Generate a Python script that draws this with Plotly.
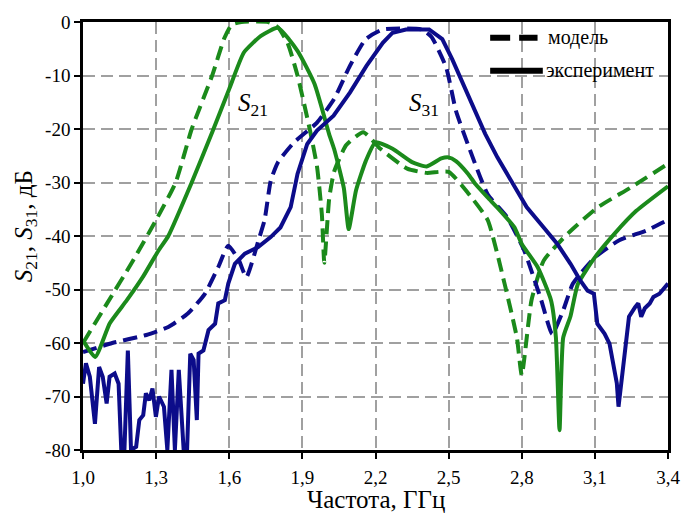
import plotly.graph_objects as go

# S21 model (dashed green)
s21_model_f = [1.0, 1.1, 1.2, 1.3, 1.38, 1.446, 1.53, 1.58, 1.61, 1.65, 1.76, 1.8, 1.84,
               1.88, 1.93, 1.96, 1.98, 1.99, 2.01, 2.03, 2.08, 2.15, 2.22, 2.33, 2.41, 2.5, 2.58,
               2.66, 2.73, 2.78, 2.80, 2.84, 2.89, 2.99, 3.11, 3.245, 3.4]
s21_model_db = [-60, -52.5, -45, -37, -30, -20, -10, -3, -0.5, 0, 0, -1, -4,
                -10, -20, -27, -36, -45, -33, -28, -23, -20.6, -23.7, -27.4, -28.2, -28, -32,
                -37, -49, -59, -66, -52, -44.6, -39.5, -34.7, -31, -26.5]

# S21 experiment (solid green)
s21_exp_f = [1.0, 1.05, 1.11, 1.18, 1.245, 1.31, 1.35, 1.446, 1.53, 1.6, 1.66, 1.73, 1.8, 1.88,
             1.95, 2.01, 2.03, 2.07, 2.09, 2.12, 2.16, 2.2, 2.27, 2.35, 2.41, 2.47, 2.5, 2.53,
             2.58, 2.61, 2.66, 2.70, 2.77, 2.8, 2.865, 2.92, 2.94, 2.955, 2.97, 3.0, 3.03, 3.1,
             3.18, 3.27, 3.4]
s21_exp_db = [-59.5, -62.6, -56.3, -52, -47.7, -42.7, -40, -30, -20.6, -12.5, -5.7, -2.6, -1.1, -5.4,
              -11.6, -21, -23.7, -31, -38.7, -31.5, -26, -22.5, -23.7, -26.2, -27, -25.5, -25.3, -26,
              -28.4, -30.3, -32.8, -34.7, -38.4, -41.5, -45.8, -52, -58.9, -76.3, -59, -55, -49, -44,
              -39.6, -35.3, -30.7]

# S31 model (dashed blue)
s31_model_f = [1.0, 1.12, 1.26, 1.35, 1.43, 1.5, 1.555, 1.596, 1.64, 1.67, 1.72, 1.745, 1.77, 1.8,
               1.866, 1.96, 2.03, 2.095, 2.16, 2.23, 2.39, 2.43, 2.49, 2.53, 2.58, 2.66, 2.74,
               2.81, 2.88, 2.925, 2.97, 3.01, 3.1, 3.2, 3.31, 3.4]
s31_model_db = [-61.7, -60, -58.5, -57, -54.5, -50.8, -45.8, -41.8, -44.6, -47.7, -40.8, -37, -29.7, -26.2,
                -22.5, -18.8, -14.4, -8.2, -3.2, -1.4, -1.4, -2.8, -8.5, -16.6, -23, -32.2, -36.5,
                -42.7, -52, -58.3, -53.9, -48.9, -44, -40.8, -39, -37]

# S31 experiment (solid blue)
s31_exp_f = [1.0, 1.012, 1.028, 1.049, 1.066, 1.081, 1.097, 1.109, 1.13, 1.146, 1.157, 1.17, 1.184,
             1.197, 1.218, 1.231, 1.247, 1.258, 1.272, 1.285, 1.299, 1.312, 1.332, 1.346, 1.363,
             1.377, 1.393, 1.413, 1.427, 1.44, 1.454, 1.467, 1.474, 1.494, 1.515, 1.542, 1.555,
             1.582, 1.596, 1.623, 1.664, 1.717, 1.77, 1.81, 1.852, 1.88, 1.92, 1.96, 2.028, 2.095,
             2.163, 2.23, 2.27, 2.325, 2.42, 2.474, 2.515, 2.555, 2.61, 2.65, 2.70, 2.77, 2.82,
             2.89, 2.946, 3.0, 3.04, 3.07, 3.096, 3.11, 3.14, 3.16, 3.177, 3.19, 3.197, 3.21,
             3.224, 3.24, 3.265, 3.278, 3.29, 3.305, 3.325, 3.34, 3.365, 3.4]
s31_exp_db = [-67.6, -63.8, -66.3, -75.1, -64.5, -66.3, -71.3, -66.3, -65.7, -67.6, -80, -80, -61.4,
              -80, -79.4, -74.4, -73.5, -69.4, -70.7, -68.5, -73.8, -70, -71.9, -80, -65,
              -80, -65, -80, -80, -62, -63.2, -74.4, -62, -61.4, -57.6, -56.4, -52.6,
              -52, -48.9, -45.2, -43.3, -42.1, -40.2, -38.4, -34.6, -28.4, -22.8, -20.3, -17.5, -13.2,
              -8.2, -3.9, -2, -1.4, -1.4, -3.2, -7, -11, -16.6, -20.9, -25.3, -30.9, -34.6,
              -38.4, -41.5, -45.2, -48.3, -50.2, -50.8, -56.4, -58.3, -60.1, -63.8, -67.5, -71.9, -66.3,
              -61.4, -55.1, -53.3, -52.6, -55.1, -53.5, -52.6, -51.4, -50.8, -48.9]

x_ticks = [1.0, 1.3, 1.6, 1.9, 2.2, 2.5, 2.8, 3.1, 3.4]
x_tick_text = ["1,0", "1,3", "1,6", "1,9", "2,2", "2,5", "2,8", "3,1", "3,4"]
y_ticks = [0, -10, -20, -30, -40, -50, -60, -70, -80]
y_tick_text = ["0", "-10", "-20", "-30", "-40", "-50", "-60", "-70", "-80"]

GREEN = "#1b8a1b"
BLUE = "#0c0c8a"
SERIF = "Liberation Serif, Times New Roman, serif"
DASH = "14px,7px"

fig = go.Figure()
fig.add_trace(go.Scatter(x=s21_model_f, y=s21_model_db, mode="lines",
                         line=dict(color=GREEN, width=4, dash=DASH, shape="spline", smoothing=0.5)))
fig.add_trace(go.Scatter(x=s31_model_f, y=s31_model_db, mode="lines",
                         line=dict(color=BLUE, width=4, dash=DASH, shape="spline", smoothing=0.5)))
fig.add_trace(go.Scatter(x=s21_exp_f, y=s21_exp_db, mode="lines",
                         line=dict(color=GREEN, width=4, shape="spline", smoothing=0.5)))
fig.add_trace(go.Scatter(x=s31_exp_f, y=s31_exp_db, mode="lines",
                         line=dict(color=BLUE, width=4)))

axis_common = dict(showline=True, mirror=True, linecolor="black", linewidth=2.5,
                   ticks="outside", ticklen=6, tickwidth=2, tickcolor="black",
                   showgrid=True, gridcolor="#a0a0a0", gridwidth=1.5, griddash="12px,6px",
                   zeroline=False, tickfont=dict(family=SERIF, size=19, color="black"))

fig.update_xaxes(range=[1.0, 3.4], tickvals=x_ticks, ticktext=x_tick_text,
                 ticklabelstandoff=2, **axis_common)
fig.update_yaxes(range=[-80, 0], tickvals=y_ticks, ticktext=y_tick_text, **axis_common)

# Curve labels
fig.add_annotation(x=1.697, y=-15.5, text="<i>S</i><sub>21</sub>", showarrow=False,
                   font=dict(family=SERIF, size=25, color="black"))
fig.add_annotation(x=2.40, y=-15.5, text="<i>S</i><sub>31</sub>", showarrow=False,
                   font=dict(family=SERIF, size=25, color="black"))

# Axis titles
fig.add_annotation(xref="paper", yref="paper", x=0.5, y=-0.115, yanchor="middle",
                   text="Частота, ГГц", showarrow=False,
                   font=dict(family=SERIF, size=25, color="black"))
fig.add_annotation(xref="paper", yref="paper", x=-0.098, y=0.522, xanchor="center",
                   yanchor="middle", textangle=-90,
                   text="<i>S</i><sub>21</sub>, <i>S</i><sub>31</sub>, дБ", showarrow=False,
                   font=dict(family=SERIF, size=25, color="black"))

# Legend key: dashed = model, solid = experiment
fig.add_shape(type="line", xref="paper", yref="paper", x0=0.696, x1=0.777, y0=0.963, y1=0.963,
              line=dict(color="black", width=6, dash="20px,9px"))
fig.add_shape(type="line", xref="paper", yref="paper", x0=0.696, x1=0.786, y0=0.886, y1=0.886,
              line=dict(color="black", width=6))
fig.add_annotation(xref="paper", yref="paper", x=0.792, y=0.963, xanchor="left", yanchor="middle",
                   text="модель", showarrow=False, font=dict(family=SERIF, size=20, color="black"))
fig.add_annotation(xref="paper", yref="paper", x=0.788, y=0.886, xanchor="left", yanchor="middle",
                   text="эксперимент", showarrow=False, font=dict(family=SERIF, size=20, color="black"))

fig.update_layout(width=692, height=517, showlegend=False,
                  margin=dict(l=83, r=17, t=21, b=67),
                  paper_bgcolor="white", plot_bgcolor="white")

fig.write_html("out.html")
